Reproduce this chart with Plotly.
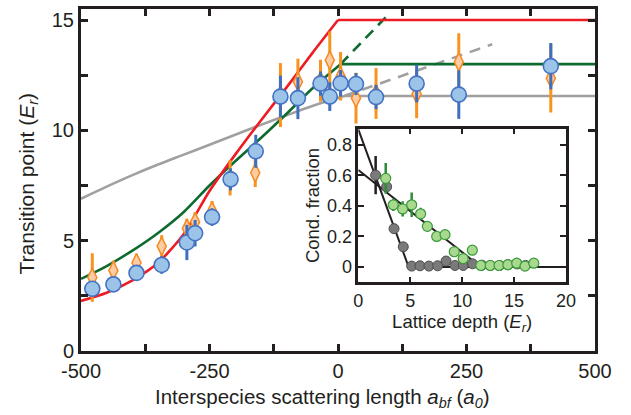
import plotly.graph_objects as go

# ---- main panel: transition point vs interspecies scattering length ----
blue_x = [-478, -437, -392, -343, -294, -278, -245, -209, -160, -112, -78, -34, -16, 5, 35, 74, 153, 235, 414]
blue_y = [2.82, 3.02, 3.54, 3.90, 4.92, 5.34, 6.07, 7.78, 9.05, 11.53, 11.46, 12.12, 11.53, 12.13, 12.10, 11.51, 12.12, 11.62, 12.91]
blue_err = [0.35, 0.3, 0.2, 0.4, 0.8, 0.6, 0.4, 0.5, 0.75, 0.95, 0.95, 0.55, 0.65, 0.6, 0.5, 0.55, 0.85, 1.1, 1.05]

orange_x = [-478, -437, -392, -343, -294, -278, -245, -210, -161, -112, -78, -34, -16, 5, 35, 74, 153, 235, 414]
orange_y = [3.33, 3.65, 4.0, 4.75, 5.55, 5.85, 6.35, 7.85, 8.08, 11.6, 12.2, 12.25, 13.18, 12.45, 11.46, 11.67, 11.65, 13.1, 12.36]
orange_err = [1.1, 0.45, 0.4, 0.5, 0.45, 0.45, 0.45, 0.8, 0.65, 1.45, 1.05, 0.95, 1.3, 1.1, 1.15, 1.15, 1.1, 1.3, 1.55]

# theory curves
red_x = [-500, -450, -400, -350, -300, -250, -200, -150, -100, -50, 0]
red_y = [2.27, 2.64, 3.2, 4.0, 5.3, 7.25, 8.9, 10.45, 11.95, 13.5, 15.0]
red_flat_x = [0, 500]
red_flat_y = [15.0, 15.0]

green_x = [-500, -450, -400, -350, -300, -250, -200, -150, -100, -50, 5]
green_y = [3.27, 3.85, 4.55, 5.35, 6.3, 7.5, 8.6, 9.65, 10.75, 11.9, 13.0]
green_flat_x = [5, 500]
green_flat_y = [13.0, 13.0]
green_dash_x = [5, 100]
green_dash_y = [13.0, 15.3]

gray_x = [-500, -450, -400, -350, -300, -250, -200, -150, -100, -50, 0, 12]
gray_y = [6.9, 7.45, 7.97, 8.45, 8.9, 9.35, 9.8, 10.25, 10.68, 11.1, 11.47, 11.56]
gray_flat_x = [12, 500]
gray_flat_y = [11.56, 11.56]
gray_dash_x = [12, 300]
gray_dash_y = [11.56, 13.9]

x_ticks = [-500, -250, 0, 250, 500]
x_ticklabels = ["-500", "-250", "0", "250", "500"]
y_ticks = [0, 5, 10, 15]
y_ticklabels = ["0", "5", "10", "15"]

# ---- inset: condensate fraction vs lattice depth ----
ins_gray_depth = [1.67, 2.73, 3.44, 4.33, 5.14, 5.94, 6.8, 7.64, 8.45, 9.31, 10.1, 11.0, 11.9, 12.7, 13.6, 14.4, 15.3, 16.1]
ins_gray_frac = [0.601, 0.525, 0.251, 0.132, 0.006, 0.008, 0.006, 0.008, 0.039, 0.01, 0.01, 0.021, 0.012, 0.01, 0.01, 0.015, 0.02, 0.01]
ins_gray_err = [0.125, 0, 0, 0, 0, 0, 0, 0, 0, 0, 0, 0, 0, 0, 0, 0, 0, 0]

ins_green_depth = [2.64, 3.37, 4.27, 5.14, 6.0, 6.65, 7.55, 8.35, 9.24, 10.1, 10.98, 11.8, 12.7, 13.55, 14.4, 15.25, 16.05, 16.9]
ins_green_frac = [0.58, 0.407, 0.38, 0.407, 0.348, 0.266, 0.2, 0.212, 0.1, 0.055, 0.11, 0.01, 0.01, 0.01, 0.015, 0.025, 0.006, 0.025]
ins_green_err = [0.1, 0.04, 0.05, 0.08, 0.04, 0.03, 0.03, 0.03, 0.02, 0.02, 0.02, 0, 0, 0, 0, 0, 0, 0]

fit_a_x = [0, 4.85, 20]
fit_a_y = [0.9, 0, 0]
fit_b_x = [0, 11.8]
fit_b_y = [0.635, 0]

ins_x_ticks = [0, 5, 10, 15, 20]
ins_x_ticklabels = ["0", "5", "10", "15", "20"]
ins_y_ticks = [0, 0.2, 0.4, 0.6, 0.8]
ins_y_ticklabels = ["0", "0.2", "0.4", "0.6", "0.8"]

INK = "#231F20"
FONT = "Liberation Sans, Arial, sans-serif"

RED = "#ED1C24"
GREEN = "#0E6B2F"
GRAY = "#A0A0A0"

fig = go.Figure()

# curves (under the markers)
fig.add_trace(go.Scatter(x=gray_x, y=gray_y, mode="lines", line=dict(color=GRAY, width=2.6, shape="spline", smoothing=0.8), hoverinfo="skip"))
fig.add_trace(go.Scatter(x=gray_flat_x, y=gray_flat_y, mode="lines", line=dict(color=GRAY, width=2.6), hoverinfo="skip"))
fig.add_trace(go.Scatter(x=gray_dash_x, y=gray_dash_y, mode="lines", line=dict(color=GRAY, width=2.6, dash="11px,8px"), hoverinfo="skip"))

fig.add_trace(go.Scatter(x=green_x, y=green_y, mode="lines", line=dict(color=GREEN, width=2.6, shape="spline", smoothing=0.8), hoverinfo="skip"))
fig.add_trace(go.Scatter(x=green_flat_x, y=green_flat_y, mode="lines", line=dict(color=GREEN, width=2.6), hoverinfo="skip"))
fig.add_trace(go.Scatter(x=green_dash_x, y=green_dash_y, mode="lines", line=dict(color=GREEN, width=2.6, dash="11px,7px"), hoverinfo="skip"))

fig.add_trace(go.Scatter(x=red_x, y=red_y, mode="lines", line=dict(color=RED, width=2.6, shape="spline", smoothing=0.7), hoverinfo="skip"))
fig.add_trace(go.Scatter(x=red_flat_x, y=red_flat_y, mode="lines", line=dict(color=RED, width=2.6), hoverinfo="skip"))

# measured points
fig.add_trace(go.Scatter(
    x=orange_x, y=orange_y, mode="markers",
    error_y=dict(type="data", array=orange_err, color="#F7931E", thickness=3, width=0),
    marker=dict(symbol="diamond-tall", size=13, color="#FDCBA4", line=dict(color="#F58A1F", width=1.5)),
))
fig.add_trace(go.Scatter(
    x=blue_x, y=blue_y, mode="markers",
    error_y=dict(type="data", array=blue_err, color="#3F6FBF", thickness=3, width=0),
    marker=dict(symbol="circle", size=15, color="#9CC4E8", line=dict(color="#4472C4", width=1.6)),
))

# inset
fig.add_trace(go.Scatter(x=fit_a_x, y=fit_a_y, mode="lines", line=dict(color=INK, width=2), xaxis="x2", yaxis="y2", hoverinfo="skip"))
fig.add_trace(go.Scatter(x=fit_b_x, y=fit_b_y, mode="lines", line=dict(color=INK, width=2), xaxis="x2", yaxis="y2", hoverinfo="skip"))
fig.add_trace(go.Scatter(
    x=ins_gray_depth, y=ins_gray_frac, mode="markers", xaxis="x2", yaxis="y2",
    error_y=dict(type="data", array=ins_gray_err, color=INK, thickness=2.5, width=0),
    marker=dict(symbol="circle", size=10, color="#7A7A7A", line=dict(color="#4D4D4D", width=1)),
))
fig.add_trace(go.Scatter(
    x=ins_green_depth, y=ins_green_frac, mode="markers", xaxis="x2", yaxis="y2",
    error_y=dict(type="data", array=ins_green_err, color="#2E8B3A", thickness=2.5, width=0),
    marker=dict(symbol="circle", size=10, color="#A9D98E", line=dict(color="#3A9A3A", width=1.2)),
))

axis_common = dict(
    showgrid=False, zeroline=False, showline=True, linecolor=INK, mirror="ticks",
    ticks="inside", tickcolor=INK, color=INK,
)

fig.update_layout(
    width=631, height=415,
    margin=dict(l=81, r=36, t=6, b=64),
    paper_bgcolor="white", plot_bgcolor="white",
    showlegend=False,
    font=dict(family=FONT, color=INK, size=18),
    xaxis=dict(
        **axis_common, range=[-500, 500], linewidth=3, ticklen=7, tickwidth=2.5,
        tickvals=x_ticks, ticktext=x_ticklabels, tickfont=dict(size=20),
        minor=dict(dtick=125, tick0=0, ticks="inside", ticklen=7, tickwidth=2.5, tickcolor=INK),
    ),
    yaxis=dict(
        **axis_common, range=[0, 15.5], linewidth=3, ticklen=7, tickwidth=2.5,
        tickvals=y_ticks, ticktext=y_ticklabels, tickfont=dict(size=20),
        minor=dict(dtick=2.5, tick0=0, ticks="inside", ticklen=7, tickwidth=2.5, tickcolor=INK),
    ),
    xaxis2=dict(
        **axis_common, domain=[0.5395, 0.9436], anchor="y2", range=[0, 20],
        linewidth=2.5, ticklen=6, tickwidth=2,
        tickvals=ins_x_ticks, ticktext=ins_x_ticklabels, tickfont=dict(size=18),
        title=dict(text="Lattice depth (<i>E</i><sub><i>r</i></sub>)", font=dict(size=18.5), standoff=1),
    ),
    yaxis2=dict(
        **axis_common, domain=[0.2009, 0.650], anchor="x2", range=[-0.1, 0.905],
        linewidth=2.5, ticklen=6, tickwidth=2,
        tickvals=ins_y_ticks, ticktext=ins_y_ticklabels, tickfont=dict(size=18),
        title=dict(text="Cond. fraction", font=dict(size=18.5), standoff=3),
    ),
    annotations=[
        dict(text="Interspecies scattering length <i>a</i><sub><i>bf</i></sub> (<i>a</i><sub><i>0</i></sub>)",
             xref="paper", yref="paper", x=0.469, y=-0.136, xanchor="center", yanchor="middle",
             showarrow=False, font=dict(size=20.5)),
        dict(text="Transition point (<i>E</i><sub><i>r</i></sub>)",
             xref="paper", yref="paper", x=-0.103, y=0.49, xanchor="center", yanchor="middle",
             textangle=-90, showarrow=False, font=dict(size=21)),
    ],
)

fig.write_html("out.html")
